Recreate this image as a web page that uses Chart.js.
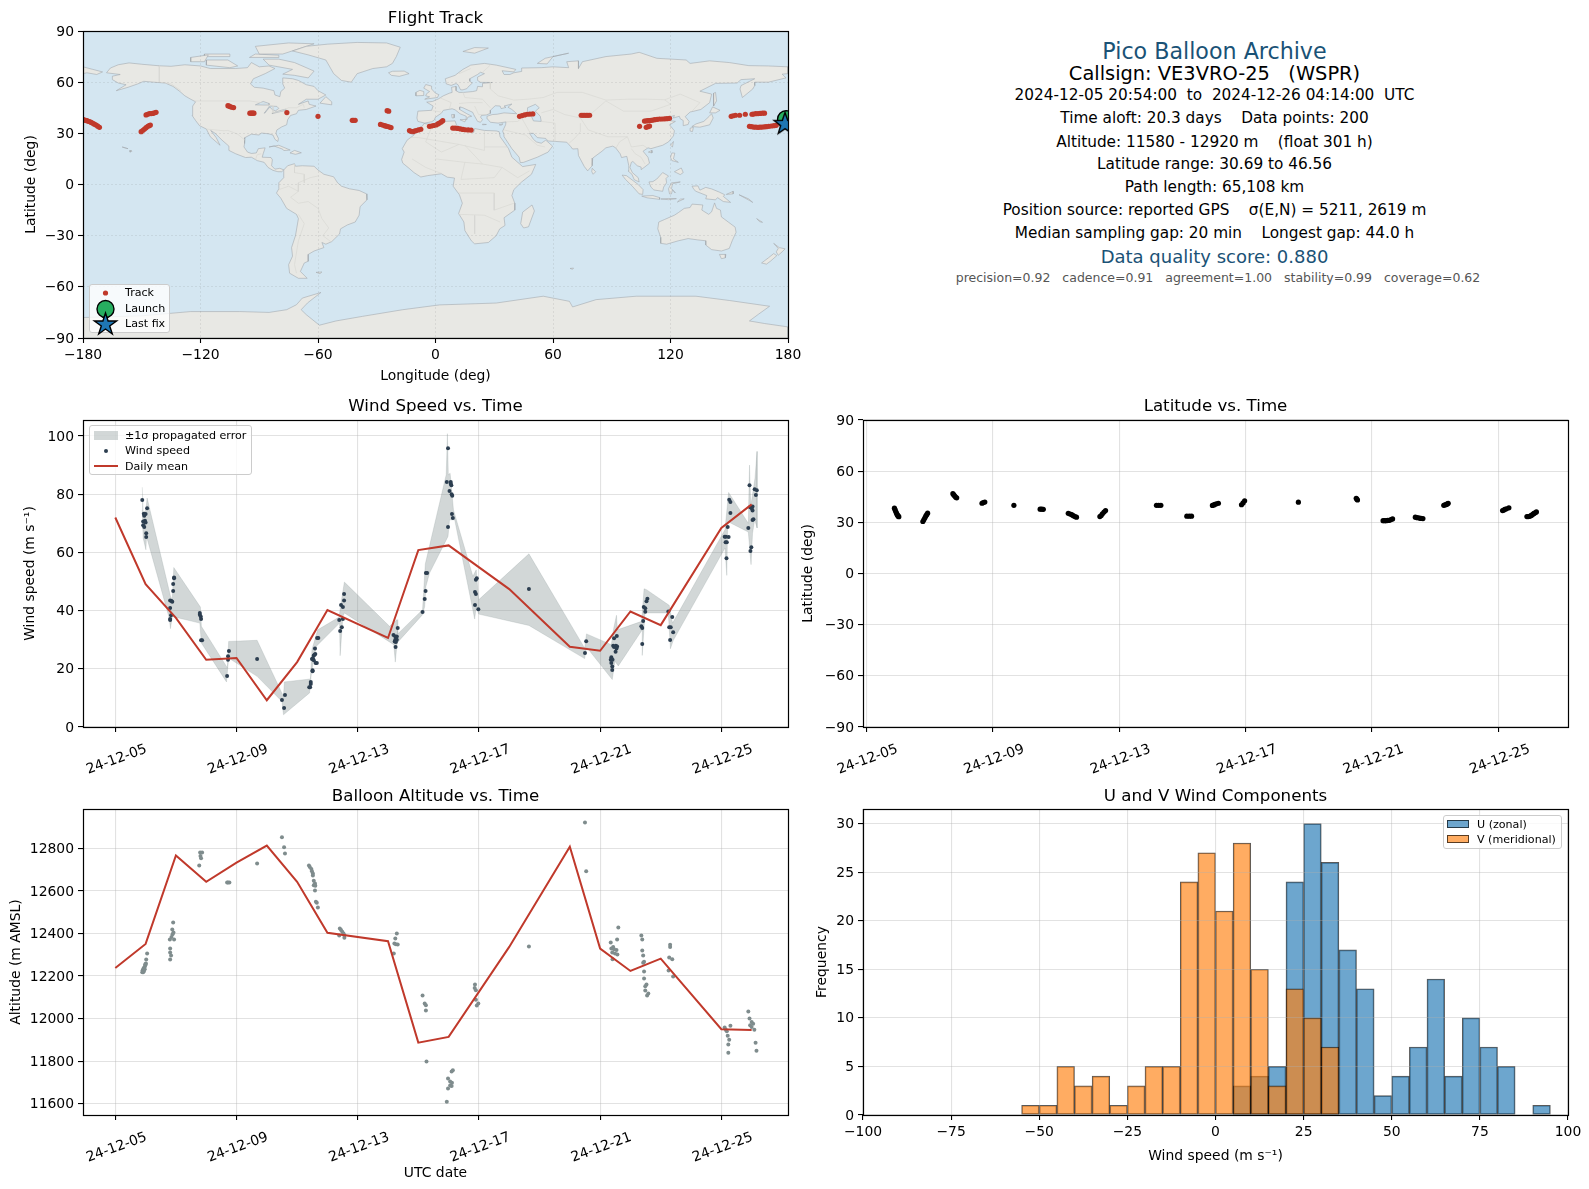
<!DOCTYPE html>
<html><head><meta charset="utf-8">
<script src="https://cdn.jsdelivr.net/npm/chart.js@4"></script>
<style>
html,body{margin:0;padding:0;background:#fff;}
body{width:1589px;height:1189px;position:relative;overflow:hidden;font-family:"DejaVu Sans",sans-serif;}
canvas{position:absolute;display:block;}
.t{position:absolute;left:1214.5px;transform:translate(-50%,-50%);white-space:pre;color:#000;font-size:15.3px;line-height:1;}
.lg{position:absolute;background:rgba(255,255,255,.8);border:1px solid #ccc;border-radius:3px;box-sizing:border-box;z-index:5;}
.lg span{position:absolute;white-space:pre;font-size:11.1px;line-height:1;transform:translateY(-50%);color:#000;}
.lg i,.lg svg{position:absolute;display:block;}
</style></head><body>
<canvas id="cMap" style="left:0;top:0" width="810" height="385"></canvas>
<canvas id="cWind" style="left:0;top:390px" width="810" height="390"></canvas>
<canvas id="cLat" style="left:795px;top:390px" width="794" height="390"></canvas>
<canvas id="cAlt" style="left:0;top:780px" width="810" height="409"></canvas>
<canvas id="cHist" style="left:795px;top:780px" width="794" height="409"></canvas>

<div class="t" style="top:50.7px;font-size:22.2px;color:#1a5276">Pico Balloon Archive</div>
<div class="t" style="top:74.3px;font-size:19.4px">Callsign: VE3VRO-25   (WSPR)</div>
<div class="t" style="top:96.3px">2024-12-05 20:54:00  to  2024-12-26 04:14:00  UTC</div>
<div class="t" style="top:119.3px">Time aloft: 20.3 days    Data points: 200</div>
<div class="t" style="top:142.5px">Altitude: 11580 - 12920 m    (float 301 h)</div>
<div class="t" style="top:165.3px">Latitude range: 30.69 to 46.56</div>
<div class="t" style="top:188.3px">Path length: 65,108 km</div>
<div class="t" style="top:211.3px">Position source: reported GPS    σ(E,N) = 5211, 2619 m</div>
<div class="t" style="top:234.3px">Median sampling gap: 20 min    Longest gap: 44.0 h</div>
<div class="t" style="top:256.7px;font-size:18px;color:#1a5276">Data quality score: 0.880</div>
<div class="t" style="top:278px;left:1218px;font-size:12.5px;color:#555">precision=0.92   cadence=0.91   agreement=1.00   stability=0.99   coverage=0.62</div>

<div class="lg" style="left:89px;top:284px;width:81px;height:49px">
 <svg style="left:0;top:-4px;width:34px;height:60px;overflow:visible" viewBox="0 0 34 60">
  <circle cx="15.5" cy="12" r="2.6" fill="#c0392b"/>
  <circle cx="15.5" cy="28" r="8.5" fill="#27ae60" stroke="#000" stroke-width="1.4"/>
  <polygon points="15.5,32 18.1,40 26.6,40 19.7,45 22.3,53 15.5,48 8.7,53 11.3,45 4.4,40 12.9,40" fill="#1f77b4" stroke="#000" stroke-width="1.4"/>
 </svg>
 <span style="left:35px;top:8px">Track</span><span style="left:35px;top:24px">Launch</span><span style="left:35px;top:39px">Last fix</span>
</div>
<div class="lg" style="left:89px;top:425px;width:163px;height:50px">
 <i style="left:3.5px;top:5px;width:24px;height:9px;background:rgba(127,140,141,.35);border:0"></i>
 <i style="left:14px;top:22.5px;width:4px;height:4px;border-radius:50%;background:#2c3e50"></i>
 <i style="left:3.5px;top:38.5px;width:24px;height:2px;background:#c0392b"></i>
 <span style="left:35px;top:10px">±1σ propagated error</span><span style="left:35px;top:25px">Wind speed</span><span style="left:35px;top:40.5px">Daily mean</span>
</div>
<div class="lg" style="left:1443px;top:815px;width:119px;height:34px">
 <i style="left:3px;top:4px;width:22px;height:8px;box-sizing:border-box;background:rgba(31,119,180,.65);border:1px solid rgba(0,0,0,.65)"></i>
 <i style="left:3px;top:19px;width:22px;height:8px;box-sizing:border-box;background:rgba(255,127,14,.65);border:1px solid rgba(0,0,0,.65)"></i>
 <span style="left:33px;top:9px">U (zonal)</span><span style="left:33px;top:24px">V (meridional)</span>
</div>

<script>
// ---- tick tables ----
const TICK_DAYS=[0,4,8,12,16,20];
const TICK_LABELS=['24-12-05','24-12-09','24-12-13','24-12-17','24-12-21','24-12-25'];
const LON_TICKS=[-180,-120,-60,0,60,120,180];
const LAT_TICKS=[-90,-60,-30,0,30,60,90];
const WIND_TICKS=[0,20,40,60,80,100];
const ALT_TICKS=[11600,11800,12000,12200,12400,12600,12800];
const HIST_X_TICKS=[-100,-75,-50,-25,0,25,50,75,100];
const HIST_Y_TICKS=[0,5,10,15,20,25,30];

// ---- flight track (lon, lat) ----
const TRACK=[[-180,38.2],[-179.3,37.8],[-178.6,37.6],[-178,37.4],[-177.3,37.1],[-176.7,36.9],[-175.8,36.4],[-175,35.9],[-174.2,35.4],[-173.3,34.9],[-172.5,34.2],[-171.6,33.5],
[-150.3,31],[-149.4,31.8],[-148.6,32.5],[-147.8,33.3],[-146.9,34.1],[-146.2,34.5],[-145.6,34.9],
[-147.8,40.8],[-147,41.2],[-146.1,41.6],[-145.2,41.6],[-144.4,41.7],[-143.5,42],[-142.7,42.3],
[-106,46.2],[-105.3,45.9],[-104.7,45.6],[-103.9,45.3],[-103.1,45.1],[-94.8,41.8],[-94.2,41.8],[-93.7,41.8],[-93.2,41.8],[-92.7,41.8],[-75.9,42.2],[-60,40],[-42.5,37.6],[-41.8,37.6],[-41,37.6],
[-24.7,43.3],[-23.9,43],[-28.1,35.2],[-27,34.9],[-26,34.5],[-25.2,34.2],[-24.4,34],[-23.5,33.7],[-22.7,33.4],
[-13.3,31.6],[-12.5,31.2],[-11.6,31],[-10.8,31.3],[-9.9,31.6],[-8.7,32],[-7.5,32.4],[-3.1,34.1],[-2,34.3],[-1,34.6],[0.3,34.9],[1.2,35.5],[2,36],[2.9,36.7],[3.7,37.4],
[8.8,33.1],[10,33],[11.4,32.9],[12.7,32.6],[14,32.3],[15.2,32.1],[16.7,32],[18.2,31.9],[42.9,40],[44.2,40.4],[45.5,40.8],[46.8,41.2],[48.2,41.3],[49.7,41.4],[74.4,40.6],[75.3,40.6],[76.1,40.6],[77,40.6],[77.8,40.6],[78.7,40.6],
[106.7,37.2],[107.6,37.3],[108.5,37.4],[109.3,37.5],[110.1,37.6],[111,37.8],[112,38],[113.2,38.2],[114.4,38.4],[115.7,38.4],[117,38.5],[118.2,38.6],[119.5,38.8],
[104.2,34.1],[107.6,33.5],[108.5,33.9],[109.3,34.3],
[151,40],[152,40.3],[153.2,40.6],[155.3,40.6],[158.2,41.2],[161.6,41.2],[162.3,41.3],[163.5,41.5],[164.7,41.6],[165.8,41.7],[167,41.8],[168,41.8],
[160.3,34.1],[161.4,33.9],[162.5,33.7],[163.6,33.6],[164.7,33.5],[165.7,33.6],[166.8,33.7],[167.9,33.8],[168.9,33.9],[170.2,34.1],[171.5,34.3],[172.8,34.5],[174,34.7]];
const LAUNCH=[179,38.3];
const LAST_FIX=[178.5,36];

// ---- land outlines (lon, lat) ----
const NORTH_AMERICA=[[-168,65.5],[-166,68.3],[-162,70.2],[-156.5,71.3],[-150,70.5],[-141,69.6],[-135,69.3],[-128,70.2],[-120,69.5],[-115,68],[-108,68],[-102,68],[-96,68.5],[-94,71.5],[-90,69],[-85,69.5],[-82,68],[-87,65],[-93,62],[-94.5,59],[-92.5,57],[-88,56.5],[-82.5,55],[-82,52.5],[-79.5,51.5],[-79,54.5],[-77,56.5],[-78,59],[-78,62.5],[-73,62],[-70,61],[-66,58.5],[-62,57.5],[-60,55],[-56,52.5],[-60,50],[-66,50],[-70,47],[-65,49],[-64.5,47],[-61,46],[-66,44],[-70,43.5],[-71,41.5],[-74,40.5],[-75.5,38],[-76,35],[-78.5,33.8],[-81,32],[-81.5,30],[-80.2,27],[-80.5,25.2],[-82,26.5],[-83,29],[-85,29.7],[-89,30.2],[-90,29],[-94,29.5],[-97.3,27.5],[-97.5,24],[-97.8,22],[-96,19],[-94,18.2],[-91.5,18.5],[-90.5,21],[-87,21.5],[-88,18],[-88.5,16],[-84,15.8],[-83.3,14.5],[-83.7,11],[-82,9],[-79.5,9.5],[-77.5,8.6],[-78.5,7.5],[-80.5,7.5],[-83,8.3],[-85.5,10],[-87.5,13],[-91,14],[-94,16],[-97,15.8],[-102,18],[-105.5,20],[-105.5,22.5],[-109,26],[-112.5,30],[-114.8,31.7],[-112,27.5],[-110,23],[-112,25],[-115,28],[-117,32.5],[-120.5,34.5],[-122.5,37.5],[-124.3,40.5],[-124,46],[-122.5,48.5],[-125,50],[-128,52],[-130.5,54.5],[-134,57.5],[-138,59.5],[-144,60],[-149,60.5],[-152,59],[-157,57],[-163,55],[-158,58.5],[-162,59.5],[-165,61.5],[-165,63.5],[-161,64.5],[-168,65.5]];
const SOUTH_AMERICA=[[-77.5,8.5],[-75.5,11],[-72,12.2],[-71.5,10.7],[-68,11],[-62,10.7],[-60,8.5],[-57,6],[-52,4.5],[-50,1],[-48,-1],[-44,-2.5],[-39,-3.5],[-35.2,-5.5],[-35,-9],[-38.5,-13],[-39,-18],[-41,-22],[-45,-23.7],[-48.5,-26],[-49,-29],[-53,-33.5],[-56,-35],[-58,-34],[-57,-37],[-62,-39],[-65,-41],[-65,-45],[-67,-46],[-69,-51],[-65.5,-55],[-70,-55],[-74.5,-52],[-75,-47],[-73,-42],[-73.5,-37],[-71.5,-30],[-70,-20],[-71,-17.5],[-76,-14],[-79,-8],[-81.2,-5],[-80,-2.5],[-80,1],[-77.5,4],[-77.5,8.5]];
const EURASIA=[[-5.5,36],[-9,37],[-9.5,39],[-9,43],[-2,43.5],[-1.2,46],[-4.5,48.3],[-1.5,48.7],[1.5,50.2],[4,52],[7,53.5],[8.5,54],[8.2,57],[10.5,57.5],[10.5,55],[12,54],[14.3,54],[19,54.5],[21,55],[21.5,57.5],[24,57.3],[24,59.3],[29,59.8],[23,59.9],[21.5,61],[21.5,63],[25,65],[23,65.8],[21.5,64.5],[17.5,62],[17.5,60.5],[18.8,59.5],[16.5,57],[16,56.2],[14,55.5],[12.8,55.5],[11.5,58.5],[10.5,59.2],[8,58.1],[5.5,59],[5,62],[10,64],[14,67.5],[18,70],[25,71],[31,70],[41,67.5],[40,66],[34,66.7],[35,64.5],[38,64.5],[40,65.5],[44,66.3],[44,68.3],[54,68.5],[60,69],[68,68.5],[67,72],[73,72.5],[73,68],[75,72],[81,73.5],[87,75],[100,76.5],[104,77.5],[113,74],[128,73],[130,71],[140,72.5],[150,71.5],[160,69.7],[170,69.5],[180,69],[180,65],[177,64.7],[179,62.5],[170,60],[163,60],[163,58],[162,56],[156.7,51],[155.5,56],[156,58],[163,62],[156,61.5],[154,59.5],[143,59.3],[135,54.7],[141,53],[140,48],[135.5,44],[132,43],[130,42.5],[127.5,39.8],[129.5,37],[129,35.2],[126.5,34.5],[126.5,37.5],[125,38.5],[124.5,40],[121.5,39],[122,40.5],[118,39],[119,37.5],[122.5,37],[119.5,35],[122,31.5],[121.5,28.5],[119,25],[116,23],[113.5,22.2],[110,21],[108.5,21.5],[106,19.5],[108.5,16],[109.3,12.5],[107,10.4],[105,8.7],[105,10.2],[103,11],[100.8,13.5],[100,13],[99.3,10],[100.5,7],[103.5,4],[104,1.5],[101.5,2.8],[100.3,6],[98.3,8],[98.7,11],[97.7,16.5],[95,15.8],[94.3,18],[92,21.5],[90.5,22.5],[87,21.5],[85,19.5],[80.3,15.5],[80,11],[77.7,8],[76,10.5],[73,17],[72.7,21],[70,20.8],[69,22.3],[67,24.8],[62,25.2],[57.5,25.5],[56.3,27],[52,27.5],[50,30],[48,30],[50,26.5],[51.5,25],[54,24.2],[56.3,26],[59.8,22.5],[57.5,19],[52,16],[45,13],[43.3,12.8],[42.7,16],[39,21],[35,28],[34.9,29.5],[34.3,31.3],[35.8,35],[36,36.7],[32,36],[28,36.5],[26.5,38.5],[26.3,40],[29,41],[31.5,41.2],[35,42],[41.5,41.5],[39,44],[37,45.3],[39,47.2],[35,46],[36,45.2],[33.5,44.5],[33,46],[30.5,46.2],[28,43.5],[28,41.7],[26,40.8],[23.5,40.5],[23,39.5],[24,38],[23,36.5],[21.5,37],[19.5,41],[19,42.3],[14,45],[12.5,45.5],[12.3,44],[16,41.5],[18.5,40],[16.5,39.5],[16,38],[15.7,40],[12.5,41.5],[10,43.8],[8.5,44.4],[4,43.5],[3,41.8],[0,39.5],[-0.7,37.7],[-2,36.8],[-5.5,36]];
const AFRICA=[[-5.9,35.8],[-2,35],[3,36.9],[10,37.3],[11,34],[15,32.3],[19.5,30.5],[20,32.8],[25,31.7],[31,31.4],[32.5,31],[33,28],[35.5,24],[37.3,21],[39,16],[43,12],[44.5,10.5],[51.2,11.8],[49,6],[44,1.5],[40,-3],[39,-6.5],[40.5,-11],[40.5,-15],[35,-19.5],[35.5,-24],[32.8,-26],[31,-30],[27,-34],[20,-34.8],[18.3,-33],[15,-27],[14.5,-22],[11.8,-17],[13.7,-11],[12.2,-6],[9,-1],[9.7,3.8],[6,4.3],[3,6.3],[-4,5.2],[-7.5,4.4],[-11,7],[-13.5,9.5],[-16.7,12.5],[-17.3,14.7],[-16,19],[-17,21],[-14.5,26],[-11,29],[-9.5,32],[-6.5,34.5],[-5.9,35.8]];
const AUSTRALIA=[[114,-22],[113.5,-26],[115,-31],[115,-34.5],[118,-35],[124,-33],[129,-31.7],[134,-32.5],[138,-33],[138,-35.5],[141,-38.2],[146,-39],[150,-37.5],[151.5,-33],[153.5,-28],[153,-25],[149.5,-22],[146,-19],[145.5,-15],[143.5,-14],[142.5,-10.8],[141,-16],[139.5,-17.5],[136,-15],[136.5,-12],[131,-11.5],[130,-13.5],[127,-14],[124,-16.5],[122,-18],[117,-20.5],[114,-22]];
const GREENLAND=[[-73,78.3],[-66,81],[-55,82.3],[-40,83.3],[-25,83],[-18,80.5],[-20,75],[-22,71],[-25,69],[-32,68],[-40,65],[-43,60],[-48,61],[-52,65],[-54,69],[-56,73],[-65,76],[-73,78.3]];
const ANTARCTICA=[[-180,-90],[-180,-78],[-150,-77],[-125,-74.5],[-100,-74.5],[-85,-75],[-76,-73.4],[-71,-70.5],[-68,-66.6],[-58.5,-63.3],[-65.3,-69.4],[-68.6,-73.4],[-66,-76.3],[-59.3,-82.5],[-50.8,-80],[-37.2,-77.3],[-16.7,-73.4],[2,-70.6],[31,-69.5],[55,-65.5],[68.4,-68.5],[70,-71.8],[82,-67.5],[102.5,-65.5],[133,-65.5],[150,-68],[170.6,-71.4],[165,-76],[160.3,-80],[168,-81.5],[180,-83.5],[180,-90],[-180,-90]];
const ISLANDS=[
[[-24,65.5],[-22,66.4],[-16,66.5],[-13.5,65],[-18.5,63.4],[-22.5,64],[-24,65.5]],
[[-5.5,50],[1,51],[1.7,52.7],[0,53.5],[-2,56],[-2,57.7],[-5,58.6],[-6,56.5],[-3,54.5],[-4.5,53.3],[-5,52],[-3,51.4],[-5.5,50]],
[[-10,52],[-6,52.2],[-6,54.5],[-8,55.2],[-10,54],[-10,52]],
[[14,78],[20,80.3],[27,80],[20,77],[14,78]],
[[52,71],[56,74],[68,77],[60,75],[57,70.7],[52,71]],
[[-80,73.5],[-72,71.5],[-62,66.5],[-65,62.5],[-72,64],[-78,64.7],[-73,67.5],[-85,70],[-88,73.5],[-80,73.5]],
[[-117,70],[-105,68.5],[-101,69.5],[-106,73],[-117,73],[-117,70]],
[[-125,72],[-118,72],[-116,76],[-125,74.5],[-125,72]],
[[-90,76.5],[-78,76.5],[-62,82.5],[-75,83],[-92,81],[-90,76.5]],
[[-95,74.5],[-80,74.5],[-80,75.8],[-92,76.5],[-95,74.5]],
[[-118,75],[-105,75],[-105,76.5],[-118,76.5],[-118,75]],
[[-59,47.7],[-53,46.7],[-53,48.5],[-56,51.5],[-59,47.7]],
[[-85,22],[-80,23],[-74.2,20.2],[-77.5,19.9],[-78,20.7],[-82.5,22.6],[-85,22]],
[[-74.3,18.5],[-72,20],[-68.5,18.6],[-71.5,17.7],[-74.3,18.5]],
[[-180,69],[-175,67.5],[-170,66],[-173,64.5],[-178,65.5],[-180,65],[-180,69]],
[[-156,19],[-155,19.5],[-155.5,20.2],[-156,19]],[[-160,22],[-158,21.3],[-157,21],[-160,22]],
[[130.9,34],[135,33.6],[140,35],[141.8,39],[141,41.5],[139.8,40],[137,37],[133,35.5],[130.9,34]],
[[130,33],[131.7,33.5],[131.2,31],[130.2,31.3],[130,33]],
[[140,42],[141.5,45.5],[145.3,43.5],[143,42],[140,42]],
[[142,46],[143.5,49],[143,54],[142,53.5],[142,46]],
[[120,23],[121.5,25.2],[121,22],[120,23]],[[108.7,19],[110.5,20],[110.5,18.5],[108.7,19]],
[[120,16],[120.7,18.5],[122.2,18.4],[121.5,15],[124,13],[120.7,14],[120,16]],
[[122,7.5],[125.5,9.7],[126.5,7],[125,5.8],[122,7.5]],
[[95.3,5.5],[97.5,5.2],[103.5,0],[106,-3],[105.8,-5.8],[104,-5.5],[100.5,-1],[97,3],[95.3,5.5]],
[[105.3,-6.8],[108.5,-6.6],[111,-6.5],[114.5,-7.7],[114.4,-8.7],[108,-7.8],[105.3,-6.8]],
[[109,1.5],[111,1.7],[113,3.2],[116,7],[119,5],[117.7,3.5],[118,1],[116.5,-1.5],[116,-4],[111.5,-3.2],[110,-1.5],[109,1.5]],
[[119.5,-5.5],[119,-2.5],[120.5,1],[125,1.5],[121,0.4],[120.5,-2.5],[122.5,-5],[121,-3],[120.5,-5.5],[119.5,-5.5]],
[[131,-1],[134,-0.8],[135,-3.3],[138,-1.7],[141,-2.6],[145,-4.5],[147.7,-6],[147,-7],[150.7,-10.5],[147,-10],[144,-7.7],[143,-9],[138,-8.4],[138.5,-6.5],[133,-4],[132,-3],[131,-1]],
[[123.5,-10.3],[127,-8.4],[125,-8.6],[123.5,-10.3]],[[115,-8.5],[119,-8.2],[123,-8.3],[119,-8.9],[115,-8.5]],
[[148.5,-5.8],[152,-4],[152,-5.5],[148.5,-5.8]],[[155,-6],[160,-8.5],[162,-10.5],[160.5,-9.5],[155,-6]],
[[172.7,-34.5],[175.5,-37],[178.5,-37.7],[177,-39.5],[175,-41.5],[174,-39.5],[175,-37.5],[172.7,-34.5]],
[[172.7,-40.5],[174.3,-41.7],[171,-45],[169,-46.7],[166.5,-46],[170,-43],[172.7,-40.5]],
[[145,-41],[148.3,-41],[148,-43],[146,-43.5],[145,-41]],
[[49.3,-12],[50.5,-15.5],[47.5,-24.8],[45,-25.5],[43.5,-23],[44.5,-16.2],[49.3,-12]],
[[80,9.5],[81.8,7.5],[80.5,6],[79.8,7.5],[80,9.5]],
[[12.5,38],[15.5,38.2],[15,36.7],[12.5,38]],[[8.2,41],[9.7,41],[9.5,39.1],[8.5,39],[8.2,41]],[[24,35.4],[26,35.2],[24,35],[24,35.4]],[[32.5,35],[34.5,35.6],[33.5,34.7],[32.5,35]],
[[68.7,-49.2],[70.5,-49],[70,-49.7],[68.7,-49.2]],[[-61,-51.5],[-58,-51.3],[-59,-52.3],[-61,-51.5]],[[164,-20],[167,-22.2],[165.5,-21.8],[164,-20]]
];
const INLAND_WATER=[
[[47,45],[51,47],[53,45],[51,43],[53.5,40],[54,37],[50,37.3],[49,40],[47,43],[47,45]],
[[-92,46.7],[-88,48.7],[-85,47.5],[-85,46.6],[-88,46.6],[-92,46.7]],
[[-87.5,41.8],[-86,44],[-84.8,46],[-81,45.8],[-80,44.6],[-81.7,43.2],[-83.5,44],[-84.5,45.5],[-86,43.5],[-87,42],[-87.5,41.8]],
[[-83.3,41.6],[-79,42.8],[-76.3,43.5],[-76.5,44.2],[-79.5,43.3],[-83,42],[-83.3,41.6]]
];
const BORDERS=[
[[-123,49],[-95,49],[-89,48],[-83,46],[-83,42],[-79,43],[-75,45],[-71,45],[-67.5,47],[-67,45]],[[-141,69.6],[-141,60],[-135,59],[-130,55]],
[[-117,32.5],[-108,31.5],[-106,31.7],[-101,29.5],[-97.3,26]],[[-92,14.5],[-91,17.5],[-89,18]],
[[-60,5],[-64,4],[-70,1],[-70,-4],[-74,-7.5],[-70,-11],[-65,-10],[-60,-14],[-58,-20],[-54.5,-25.5],[-57.5,-30],[-53.5,-33.5]],[[-70,-17.5],[-67,-23],[-70,-33],[-72,-47],[-71,-52]],[[-72,12],[-72,7],[-67,6],[-67,1]],[[-80,-3],[-75,-1],[-70,-4]],
[[-13,27.7],[-8.7,27.5],[12,23.5],[25,20],[25,31.5]],[[25,22],[37,22]],[[0,15],[15,13],[24,12],[34,10],[42,4],[48,8]],[[12,-5],[30,-5],[30,-15],[40,-11]],[[12,-17.5],[25,-18],[33,-22]],[[20,-18],[20,-29]],[[-1.5,35],[-5,25],[3,19],[12,23.5]],[[15,13],[13,3],[30,4],[34,10]],[[-12,15],[-5,10],[3,6.5]],[[15,23],[24,12]],
[[28,60],[28,56],[32,52],[40,49.5],[47,50],[55,51],[62,54],[75,54],[87,49.5],[98,50],[108,50],[117,49.7],[125,53],[135,48],[131,43]],[[74,39],[80,42],[87,49]],[[74,39],[78,32],[88,28],[98,28],[100,22],[106,23],[108,21.5]],[[87,49],[96,43],[110,43],[120,47],[117,49.7]],[[68,24],[71,27],[74,31],[74,36]],[[44,39],[46,35],[48.5,30]],[[61,25],[61,30],[61,36],[54,37]],[[54,42],[60,44],[66,41],[74,39]],[[36,36.7],[42,37],[44,39]],[[35,32],[46,29],[52,23],[56,22]],
[[2,51],[8,48],[7,44]],[[-1.5,43.3],[3,42.5]],[[14,54],[15,51],[24,50],[28,45]],[[24,65.8],[28,70]],[[12,47.5],[17,48],[24,48]],[[20,46],[22,41],[26,41]],[[12,65],[18,68]],[[100,21],[102,18],[105,16],[107,12]],[[92,21],[94,25],[98,28]]
];

// ---- wind speed (day offset, m/s) ----
const WIND_POINTS=[[.89,78],[1.05,75.2],[.94,73.3],[1,73.2],[.955,72.6],[.92,70.6],[.98,70.9],[1,70.3],[.92,69.3],[.955,68.7],[1.02,66.6],[1.02,65.3],
[1.94,51.4],[1.94,51.1],[1.91,49.1],[1.91,46.7],[1.81,43.5],[1.855,43.3],[1.88,43],[1.81,40.9],[1.84,38.4],[1.81,37.1],[1.81,36.8],
[2.79,39.2],[2.79,38.6],[2.82,38],[2.83,37.1],[2.83,29.8],[2.865,29.8],
[3.75,26.1],[3.72,24.3],[3.72,23.1],[3.69,17.5],[4.68,23.4],[5.6,11],[5.5,9.3],[5.57,6.5],
[6.45,15.5],[6.45,14.8],[6.4,13.7],[6.43,13.7],[6.51,19.5],[6.51,19.2],[6.49,23.4],[6.52,23.6],[6.55,22.9],[6.61,22],[6.65,22],[6.55,24.6],[6.6,25.1],[6.575,24.8],[6.59,27],[6.66,30.6],[6.7,30.6],
[7.45,41.9],[7.51,41.2],[7.55,45.7],[7.55,43.5],[7.51,37.1],[7.39,36.8],[7.475,34.3],[7.42,33],
[9.32,34],[9.18,31.6],[9.24,31.1],[9.29,31.1],[9.24,30],[9.29,30],[9.22,29.4],[9.26,29.2],[9.25,27.5],
[10.14,39.5],[10.21,44],[10.24,46.7],[10.25,52.9],[10.29,52.9],
[10.98,95.8],[10.94,84.2],[11.07,84.2],[11.07,83.6],[11.09,83.1],[11.03,81.1],[11.1,80],[11.12,79.5],[11.11,73.2],[11.14,71.8],[10.98,68.7],
[11.93,51.1],[11.9,50.6],[11.87,46.4],[11.9,45.7],[11.87,41.9],[11.98,40.5],[13.65,47.4],[15.54,29.5],[15.5,25.4],
[16.55,31.3],[16.46,30.5],[16.43,27.9],[16.52,27.9],[16.56,27.7],[16.46,27.5],[16.54,27],[16.51,25.9],[16.37,24],[16.35,23.1],[16.41,23.1],[16.37,22],[16.4,20.8],[16.4,19.6],
[17.56,44.1],[17.53,43.2],[17.44,41.2],[17.49,40.8],[17.49,39.6],[17.42,36.4],[17.36,34.6],[17.39,34],[17.39,28.5],
[18.25,39.7],[18.38,37.8],[18.28,34.3],[18.33,34.3],[18.41,32.6],[18.31,29.9],
[20.26,78.1],[20.3,77.3],[20.3,73.5],[20.21,68.7],[20.11,65.4],[20.15,65.4],[20.24,65.3],[20.14,63.5],[20.18,63.5],[20.17,58],
[20.93,83.1],[21.1,81.7],[21.17,81.4],[21.14,79.7],[21.03,75.8],[20.95,75.5],[21,75.2],[21.03,74.4],[21.06,71.4],[21.03,71.1],[20.89,68.4],[20.99,61.8],[20.96,60.5]];
const ERROR_UPPER=[[.89,82.4],[.92,73.5],[1.01,74.6],[1.05,78.7],[1.82,45],[1.88,43.7],[1.93,54.8],[2.81,41.2],[2.84,34.6],[3.7,20.3],[3.74,29.4],[4.68,29.8],[5.55,10.5],[5.58,15.5],[6.44,16.5],[6.49,26.6],[6.68,33.4],[7.39,37.8],[7.43,41.4],[7.56,49.8],[9.05,34.6],[9.3,36.9],[9.32,32],[10.14,40.3],[10.23,56],[10.92,86.7],[10.96,100.8],[10.99,86.7],[11.05,87.2],[11.16,74.6],[11.8,51.8],[11.91,54],[11.99,43.7],[13.65,59.5],[15.49,27.1],[15.55,32],[16.37,28.3],[16.45,34],[16.54,38.4],[16.57,33.4],[17.37,36.3],[17.45,47.5],[17.53,47.2],[18.28,41.8],[18.39,35.7],[20.12,67.8],[20.24,80.6],[20.89,70],[20.93,90],[20.97,75.8],[21.11,85.5],[21.18,94.7]];
const ERROR_LOWER=[[.89,74.6],[.92,64.9],[1.01,60.9],[1.03,65.5],[1.78,37.4],[1.82,33.8],[1.88,38],[2.79,35.7],[2.84,28.9],[3.67,15.5],[3.74,23.7],[4.68,17.4],[5.5,8.8],[5.55,4.2],[6.41,11.7],[6.47,18.5],[6.63,27.7],[7.4,35.7],[7.42,24.5],[7.51,38],[7.56,39.2],[9.19,28.3],[9.24,22.3],[9.3,28.9],[10.14,38.6],[10.21,41.4],[10.25,48.3],[10.37,52.9],[10.98,65.5],[11.03,71.2],[11.2,71.2],[11.86,37.1],[11.91,41.4],[11.99,38.8],[13.65,34.9],[15.49,23.5],[15.55,27.5],[16.4,16.3],[16.49,22.6],[16.6,21],[17.39,33.4],[17.39,24.6],[17.48,39.2],[18.25,39.2],[18.32,26.9],[18.41,29.7],[20.12,61.5],[20.18,52.1],[20.21,70.6],[20.89,67],[20.98,55.8],[21.03,66.6],[21.1,71.2],[21.18,68.4]];
const MEAN_DAYS=[0,1,2,3,4,5,6,7,9,10,11,13,15,16,17,18,20,21];
const WIND_MEAN=[72,49.1,37.5,23.1,23.7,9.2,22.3,40.2,30.6,60.8,62.4,47.4,27.6,26.2,39.7,35,68.4,76.5];

// ---- altitude ----
const ALT_MEAN=[12238,12351,12767,12643,12733,12813,12643,12403,12364,11887,11914,12337,12808,12329,12224,12282,11950,11947];
const ALT_POINTS=[[1.05,12306],[1.02,12278],[1.01,12259],[.99,12251],[.97,12243],[.94,12238],[.92,12232],[.9,12226],[.89,12218],[.92,12218],[.94,12223],[.97,12232],[.99,12256],
[1.91,12452],[1.88,12419],[1.92,12405],[1.89,12397],[1.855,12384],[1.8,12372],[1.94,12372],[1.81,12329],[1.81,12311],[1.84,12296],[1.81,12278],
[2.8,12781],[2.865,12781],[2.81,12764],[2.83,12753],[2.77,12720],[3.69,12640],[3.72,12640],[3.765,12640],[4.68,12729],[5.5,12852],[5.57,12805],[5.6,12776],
[6.39,12720],[6.42,12712],[6.47,12703],[6.49,12693],[6.52,12682],[6.52,12673],[6.55,12648],[6.59,12635],[6.55,12627],[6.6,12624],[6.59,12602],[6.62,12549],[6.65,12544],[6.685,12522],
[7.41,12424],[7.45,12416],[7.49,12408],[7.53,12400],[7.39,12391],[7.56,12392],[7.56,12380],
[9.29,12400],[9.24,12376],[9.21,12353],[9.26,12350],[9.32,12348],[9.19,12306],
[10.14,12108],[10.21,12071],[10.25,12063],[10.25,12038],[10.27,11798],
[11.14,11757],[11.1,11751],[10.98,11718],[11.05,11705],[11.11,11699],[11.05,11686],[11.1,11683],[10.98,11671],[10.94,11609],
[11.87,12160],[11.86,12144],[11.9,12133],[11.9,12089],[11.98,12071],[11.93,12061],[13.65,12339],[15.5,12922],[15.54,12692],
[16.6,12428],[16.56,12372],[16.35,12358],[16.43,12337],[16.37,12329],[16.46,12326],[16.54,12322],[16.4,12311],[16.49,12306],[16.57,12301],[16.41,12279],
[17.36,12391],[17.39,12372],[17.39,12320],[17.42,12296],[17.45,12267],[17.42,12262],[17.45,12221],[17.45,12188],[17.53,12160],[17.49,12152],[17.49,12132],[17.59,12118],[17.55,12108],
[18.31,12347],[18.31,12337],[18.28,12287],[18.38,12279],[18.26,12226],[18.41,12198],
[20.11,11958],[20.15,11948],[20.3,11966],[20.18,11940],[20.21,11920],[20.26,11901],[20.23,11878],[20.23,11840],
[20.89,12033],[20.93,12000],[21,11984],[21.05,11976],[20.95,11969],[21,11961],[21.09,11948],[21.13,11887],[21.16,11849]];

// ---- latitude vs time ----
const LAT_POINTS=[[.89,38.3],[.91,37.4],[.93,36.5],[.95,35.6],[.97,34.8],[.99,34.2],[1.01,33.6],[1.03,33.3],
[1.79,30.5],[1.82,31.5],[1.85,32.5],[1.88,33.6],[1.91,34.5],[1.94,35.4],
[2.74,46.8],[2.77,46.1],[2.8,45.4],[2.83,44.7],[2.86,44.4],[3.66,41.2],[3.7,41.6],[3.75,41.9],[4.67,40],[5.5,37.7],[5.55,37.7],[5.6,37.6],
[6.39,35.3],[6.45,34.9],[6.5,34.5],[6.55,33.9],[6.6,33.4],[6.65,33],[7.39,33.4],[7.43,34],[7.47,35],[7.52,36],[7.57,36.9],
[9.18,40],[9.25,40],[9.32,40],[10.14,33.6],[10.22,33.6],[10.29,33.6],[10.95,39.9],[11,40.2],[11.03,40.6],[11.08,40.9],[11.14,41.2],[11.87,40.3],[11.92,41.4],[11.97,42.6],
[13.67,41.8],[15.5,44.1],[15.52,43.6],[15.54,43.1],[16.35,31],[16.4,31],[16.45,31],[16.5,31.1],[16.55,31.2],[16.6,31.6],[16.65,32],[17.37,33],[17.41,32.8],[17.45,32.7],[17.5,32.5],[17.55,32.3],[17.61,32.2],
[18.27,40],[18.31,40.2],[18.35,40.5],[18.38,40.8],[18.41,41.2],[20.13,36.9],[20.17,37.2],[20.2,37.6],[20.25,37.9],[20.33,38.5],[20.9,33.4],[20.94,33.4],[20.98,33.5],[21.02,33.8],[21.05,34.2],[21.09,34.7],[21.12,35.2],[21.16,35.6],[21.2,36.1]];

// ---- histogram (bin centres, counts) ----
const HIST_BINS_U=[7.5,12.5,17.5,22.5,27.5,32.5,37.5,42.5,47.5,52.5,57.5,62.5,67.5,72.5,77.5,82.5,92.5];
const HIST_U=[3,4,5,24,30,26,17,13,2,4,7,14,4,10,7,5,1];
const HIST_BINS_V=[-52.5,-47.5,-42.5,-37.5,-32.5,-27.5,-22.5,-17.5,-12.5,-7.5,-2.5,2.5,7.5,12.5,17.5,22.5,27.5,32.5];
const HIST_V=[1,1,5,3,4,1,3,5,5,24,27,21,28,15,3,13,10,7];

// ---- library setup ----
Chart.defaults.font.family='"DejaVu Sans"';
Chart.defaults.color='#000';
Chart.defaults.animation=false;
const FS=13.9;
const xy=a=>a.map(p=>({x:p[0],y:p[1]}));
const minus=v=>String(v).replace('-','\u2212');
const spines={id:'spines',afterDraw(c){const a=c.chartArea,x=c.ctx;x.save();x.strokeStyle='#000';x.lineWidth=1.2;x.strokeRect(a.left+.5,a.top+.5,a.right-a.left,a.bottom-a.top);x.restore();}};
const sea={id:'sea',beforeDraw(c){const a=c.chartArea,x=c.ctx;x.save();x.fillStyle='#d4e6f1';x.fillRect(a.left,a.top,a.right-a.left,a.bottom-a.top);x.restore();}};
const GRID='rgba(176,176,176,0.36)';
function axis(o){
  const s={type:'linear',min:o.min,max:o.max,offset:false,
    grid:Object.assign({offset:false,color:GRID,lineWidth:1.1,tickColor:'#000',tickLength:5,tickWidth:1.1,drawTicks:true},o.grid||{}),
    border:{display:false,dash:o.dash||[]},
    ticks:{autoSkip:false,font:{size:FS},color:'#000',padding:4,labelOffset:o.vertical?1:0,callback:o.cb||minus},
    afterBuildTicks(a){a.ticks=o.vals.map(v=>({value:v}));},
    afterFit(a){ if(o.h!==undefined)a.height=o.h; if(o.w!==undefined)a.width=o.w; a.paddingLeft=a.paddingRight=a.paddingTop=a.paddingBottom=0; }
  };
  if(o.rot){s.ticks.minRotation=20;s.ticks.maxRotation=20;s.ticks.labelOffset=31;s.ticks.padding=9;s.ticks.callback=v=>TICK_LABELS[TICK_DAYS.indexOf(v)];}
  if(o.title)s.title={display:true,text:o.title,font:{size:FS},color:'#000',padding:o.tpad||{top:0,bottom:0}};
  return s;
}
function opts(title,tpad,pad,x,y){
  y.vertical=true;
  return {responsive:false,animation:false,devicePixelRatio:1,events:[],layout:{padding:pad},
    plugins:{legend:{display:false},tooltip:{enabled:false},
      title:{display:true,fullSize:false,text:title,color:'#000',font:{size:16.67,weight:'normal'},padding:tpad}},
    scales:{x:axis(x),y:axis(y)}};
}
const starCanvas=(()=>{const s=document.createElement('canvas');s.width=s.height=28;const x=s.getContext('2d');const R=11.5,r=4.6;x.beginPath();for(let i=0;i<10;i++){const a=-Math.PI/2+i*Math.PI/5,m=i%2?r:R;x[i?'lineTo':'moveTo'](14+m*Math.cos(a),15+m*Math.sin(a));}x.closePath();x.fillStyle='#1f77b4';x.fill();x.strokeStyle='#000';x.lineWidth=1.4;x.stroke();return s;})();
const LAND_COL='#e8e8e4';
const poly=(a,fill,stroke)=>({type:'scatter',data:xy(a),showLine:true,fill:'shape',backgroundColor:fill,borderColor:stroke,borderWidth:.7,pointRadius:0,tension:0});
const line=(a,stroke)=>({type:'scatter',data:xy(a),showLine:true,fill:false,borderColor:stroke,borderWidth:.7,pointRadius:0,tension:0});
const COAST='rgba(160,166,170,.8)';
const mapSets=[
 {type:'scatter',data:xy([LAST_FIX]),pointStyle:starCanvas,pointRadius:12},
 {type:'scatter',data:xy([LAUNCH]),pointRadius:8.5,backgroundColor:'#27ae60',borderColor:'#000',borderWidth:1.4},
 {type:'scatter',data:xy(TRACK),pointRadius:2.6,backgroundColor:'#c0392b',borderWidth:0},
 ...BORDERS.map(b=>line(b,'rgba(215,215,210,.9)')),
 ...INLAND_WATER.map(a=>poly(a,'#d4e6f1',COAST)),
 ...[NORTH_AMERICA,SOUTH_AMERICA,EURASIA,AFRICA,AUSTRALIA,GREENLAND,ANTARCTICA,...ISLANDS].map(a=>poly(a,LAND_COL,COAST))
];
const MAP_GRID={color:'rgba(128,128,128,.2)',lineWidth:.8,z:1};
new Chart('cMap',{type:'scatter',data:{datasets:mapSets},plugins:[sea,spines],options:opts('Flight Track',{top:9,bottom:2},{right:22},
 {min:-180,max:180,vals:LON_TICKS,h:47,title:'Longitude (deg)',tpad:{top:0,bottom:0},grid:MAP_GRID,dash:[2,2]},
 {min:-90,max:90,vals:LAT_TICKS,w:83,title:'Latitude (deg)',tpad:{top:23,bottom:0},grid:MAP_GRID,dash:[2,2]})});

const bandPoly=ERROR_UPPER.concat(ERROR_LOWER.slice().reverse());
new Chart('cWind',{type:'scatter',data:{datasets:[
 {type:'scatter',data:MEAN_DAYS.map((d,i)=>({x:d,y:WIND_MEAN[i]})),showLine:true,borderColor:'#c0392b',borderWidth:2,pointRadius:0,tension:0},
 {type:'scatter',data:xy(WIND_POINTS),pointRadius:2,backgroundColor:'#2c3e50',borderWidth:0},
 {type:'scatter',data:xy(bandPoly),showLine:true,fill:'shape',backgroundColor:'rgba(127,140,141,.35)',borderColor:'rgba(127,140,141,.2)',borderWidth:1,pointRadius:0,tension:0}
]},plugins:[spines],options:opts('Wind Speed vs. Time',{top:7,bottom:3},{right:22},
 {min:-1.066,max:22.2,vals:TICK_DAYS,rot:true,h:53},
 {min:0,max:105.5,vals:WIND_TICKS,w:83,title:'Wind speed (m s\u207B\u00B9)',tpad:{top:22,bottom:0}})});

new Chart('cLat',{type:'scatter',data:{datasets:[
 {type:'scatter',data:xy(LAT_POINTS),pointRadius:2.6,backgroundColor:'#000',borderWidth:0}
]},plugins:[spines],options:opts('Latitude vs. Time',{top:7,bottom:3},{right:21},
 {min:-0.104,max:22.2,vals:TICK_DAYS,rot:true,h:53},
 {min:-90,max:90,vals:LAT_TICKS,w:68,title:'Latitude (deg)',tpad:{top:5,bottom:0}})});

new Chart('cAlt',{type:'scatter',data:{datasets:[
 {type:'scatter',data:MEAN_DAYS.map((d,i)=>({x:d,y:ALT_MEAN[i]})),showLine:true,borderColor:'#c0392b',borderWidth:2,pointRadius:0,tension:0},
 {type:'scatter',data:xy(ALT_POINTS),pointRadius:2,backgroundColor:'#7f8c8d',borderWidth:0}
]},plugins:[spines],options:opts('Balloon Altitude vs. Time',{top:7,bottom:2},{right:22},
 {min:-1.066,max:22.2,vals:TICK_DAYS,rot:true,h:74,title:'UTC date',tpad:{top:0,bottom:7}},
 {min:11547,max:12985,vals:ALT_TICKS,w:83,title:'Altitude (m AMSL)',tpad:{top:8,bottom:0}})});

new Chart('cHist',{type:'bar',data:{datasets:[
 {data:HIST_BINS_U.map((b,i)=>({x:b,y:HIST_U[i]})),order:2,grouped:false,barThickness:17.64,backgroundColor:'rgba(31,119,180,.65)',borderColor:'rgba(0,0,0,.65)',borderWidth:1,borderSkipped:false},
 {data:HIST_BINS_V.map((b,i)=>({x:b,y:HIST_V[i]})),order:1,grouped:false,barThickness:17.64,backgroundColor:'rgba(255,127,14,.65)',borderColor:'rgba(0,0,0,.65)',borderWidth:1,borderSkipped:false}
]},plugins:[spines],options:opts('U and V Wind Components',{top:7,bottom:2},{right:21},
 {min:-100,max:100,vals:HIST_X_TICKS,h:74,title:'Wind speed (m s\u207B\u00B9)',tpad:{top:0,bottom:24},grid:{z:1}},
 {min:0,max:31.5,vals:HIST_Y_TICKS,w:68,title:'Frequency',tpad:{top:19,bottom:0},grid:{z:1}})});
</script>
</body></html>
